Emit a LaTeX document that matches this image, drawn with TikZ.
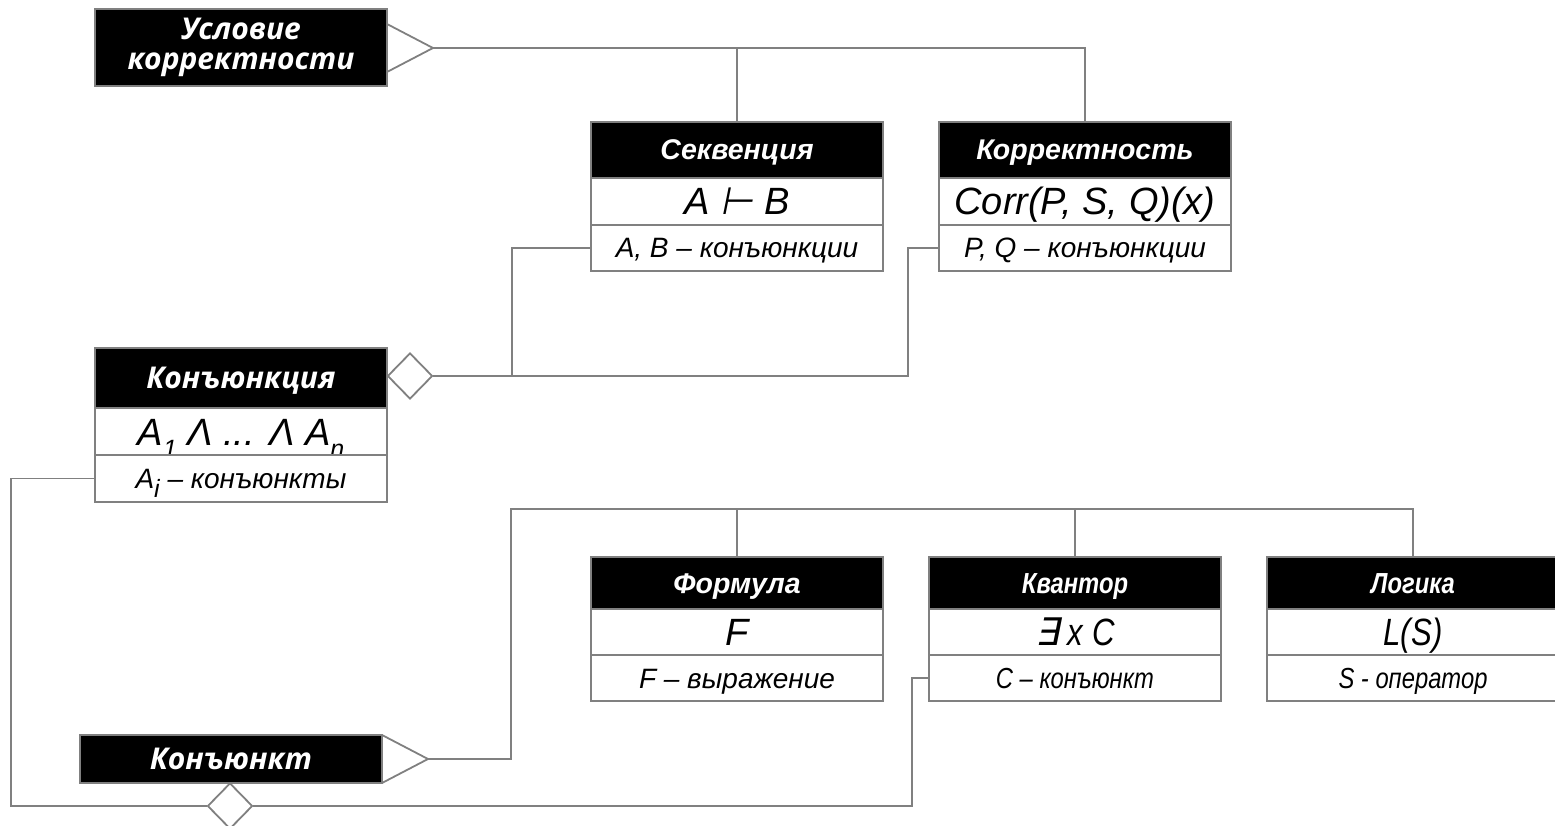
\documentclass[tikz,border=0pt]{standalone}
\usepackage{fontspec}
\setmainfont{Liberation Sans}
\newfontfamily\osfont{Open Sans}
\newfontfamily\nfont[FakeStretch=0.82]{Liberation Sans}
\newfontfamily\symfnt[FakeSlant=0.2]{DejaVu Sans}
\usetikzlibrary{shapes.geometric}
\definecolor{lg}{RGB}{128,128,128}
\newcommand\subs[1]{\raisebox{-0.33em}{\fontsize{25}{25}\selectfont #1}}
\tikzset{
 boxline/.style={draw=lg, line width=1.8pt},
 ttl/.style={boxline, fill=black, text=white, minimum width=292pt, inner sep=0pt, text height=20pt, text depth=0pt, font=\fontsize{28.5}{32}\selectfont\bfseries\itshape},
 ostl/.style={font=\osfont\fontsize{30}{34}\selectfont\bfseries\itshape, text height=21pt},
 mid/.style={boxline, fill=white, minimum width=292pt, inner sep=0pt, text height=27pt, text depth=0pt, font=\fontsize{38}{40}\selectfont\itshape},
 low/.style={boxline, fill=white, minimum width=292pt, inner sep=0pt, text height=20pt, text depth=0pt, font=\fontsize{28}{30}\selectfont\itshape},
 conn/.style={draw=lg, line width=1.8pt},
 dia/.style={diamond, draw=lg, fill=white, line width=1.8pt, minimum width=45pt, minimum height=46pt, inner sep=0pt, aspect=1},
}
\begin{document}
\begin{tikzpicture}[x=1pt,y=-1pt]
\useasboundingbox (0,0) rectangle (1555,826);
% junction coordinates
\coordinate (triA) at (433,48);
\coordinate (triB) at (428,759);
\coordinate (j1) at (512,376);
\coordinate (j2) at (908,376);
\coordinate (c1) at (11,806);
\coordinate (c2) at (912,806);
\coordinate (c3) at (511,509);

% Условие корректности
\node[ttl, ostl, minimum height=77pt, align=center, text height=, text depth=] (cond) at (241,47.5) {Условие\\[-4pt]корректности};
\draw[conn] (387,24) -- (triA) -- (387,72);

% Секвенция
\node[ttl, minimum height=56pt] (seqT) at (737,150) {Секвенция};
\node[mid, minimum height=47pt] (seqM) at (737,201.5) {A {\symfnt ⊢} B};
\node[low, minimum height=46pt] (seqB) at (737,248) {A, B – конъюнкции};

% Корректность
\node[ttl, minimum height=56pt] (corrT) at (1085,150) {Корректность};
\node[mid, minimum height=47pt] (corrM) at (1085,201.5) {Corr(P, S, Q)(x)};
\node[low, minimum height=46pt] (corrB) at (1085,248) {P, Q – конъюнкции};

% Конъюнкция
\node[ttl, ostl, minimum height=60pt] (conjT) at (241,378) {Конъюнкция};
\node[mid, minimum height=47pt] (conjM) at (241,431.5) {A\subs{1} Λ ... Λ A\subs{n}};
\node[low, minimum height=47pt] (conjB) at (241,478.5) {A\subs{i} – конъюнкты};
\node[dia] (dia1) at (410,376) {};

% Конъюнкт
\node[ttl, ostl, minimum width=302pt, minimum height=48pt] (cjt) at (231,759) {Конъюнкт};
\draw[conn] (382,735) -- (triB) -- (382,783);
\node[dia] (dia2) at (230,806) {};

% Формула
\node[ttl, minimum height=52pt] (formT) at (737,583) {Формула};
\node[mid, minimum height=46pt] (formM) at (737,632) {F};
\node[low, minimum height=46pt] (formB) at (737,678) {F – выражение};

% Квантор
\node[ttl, minimum height=52pt, font=\nfont\fontsize{29}{32}\selectfont\bfseries\itshape] (kvT) at (1075,583) {Квантор};
\node[mid, minimum height=46pt, font=\nfont\fontsize{38}{40}\selectfont\itshape] (kvM) at (1075,632) {{\symfnt ∃} x C};
\node[low, minimum height=46pt, font=\nfont\fontsize{29}{30}\selectfont\itshape] (kvB) at (1075,678) {C – конъюнкт};

% Логика
\node[ttl, minimum height=52pt, font=\nfont\fontsize{29}{32}\selectfont\bfseries\itshape] (logT) at (1413,583) {Логика};
\node[mid, minimum height=46pt, font=\nfont\fontsize{38}{40}\selectfont\itshape] (logM) at (1413,632) {L(S)};
\node[low, minimum height=46pt, font=\nfont\fontsize{29}{30}\selectfont\itshape] (logB) at (1413,678) {S - оператор};

% connectors
\draw[conn] (triA) -| (corrT.north);
\draw[conn] (seqT.north) -- (seqT.north |- triA);
\draw[conn] (dia1.east) -- (j2) |- (corrB.west);
\draw[conn] (j1) |- (seqB.west);
\draw[conn] (conjB.west) -| (c1) -- (dia2.west);
\draw[conn] (dia2.east) -- (c2) |- (kvB.west);
\draw[conn] (triB) -| (c3) -| (logT.north);
\draw[conn] (formT.north) -- (formT.north |- c3);
\draw[conn] (kvT.north) -- (kvT.north |- c3);
\end{tikzpicture}
\end{document}
